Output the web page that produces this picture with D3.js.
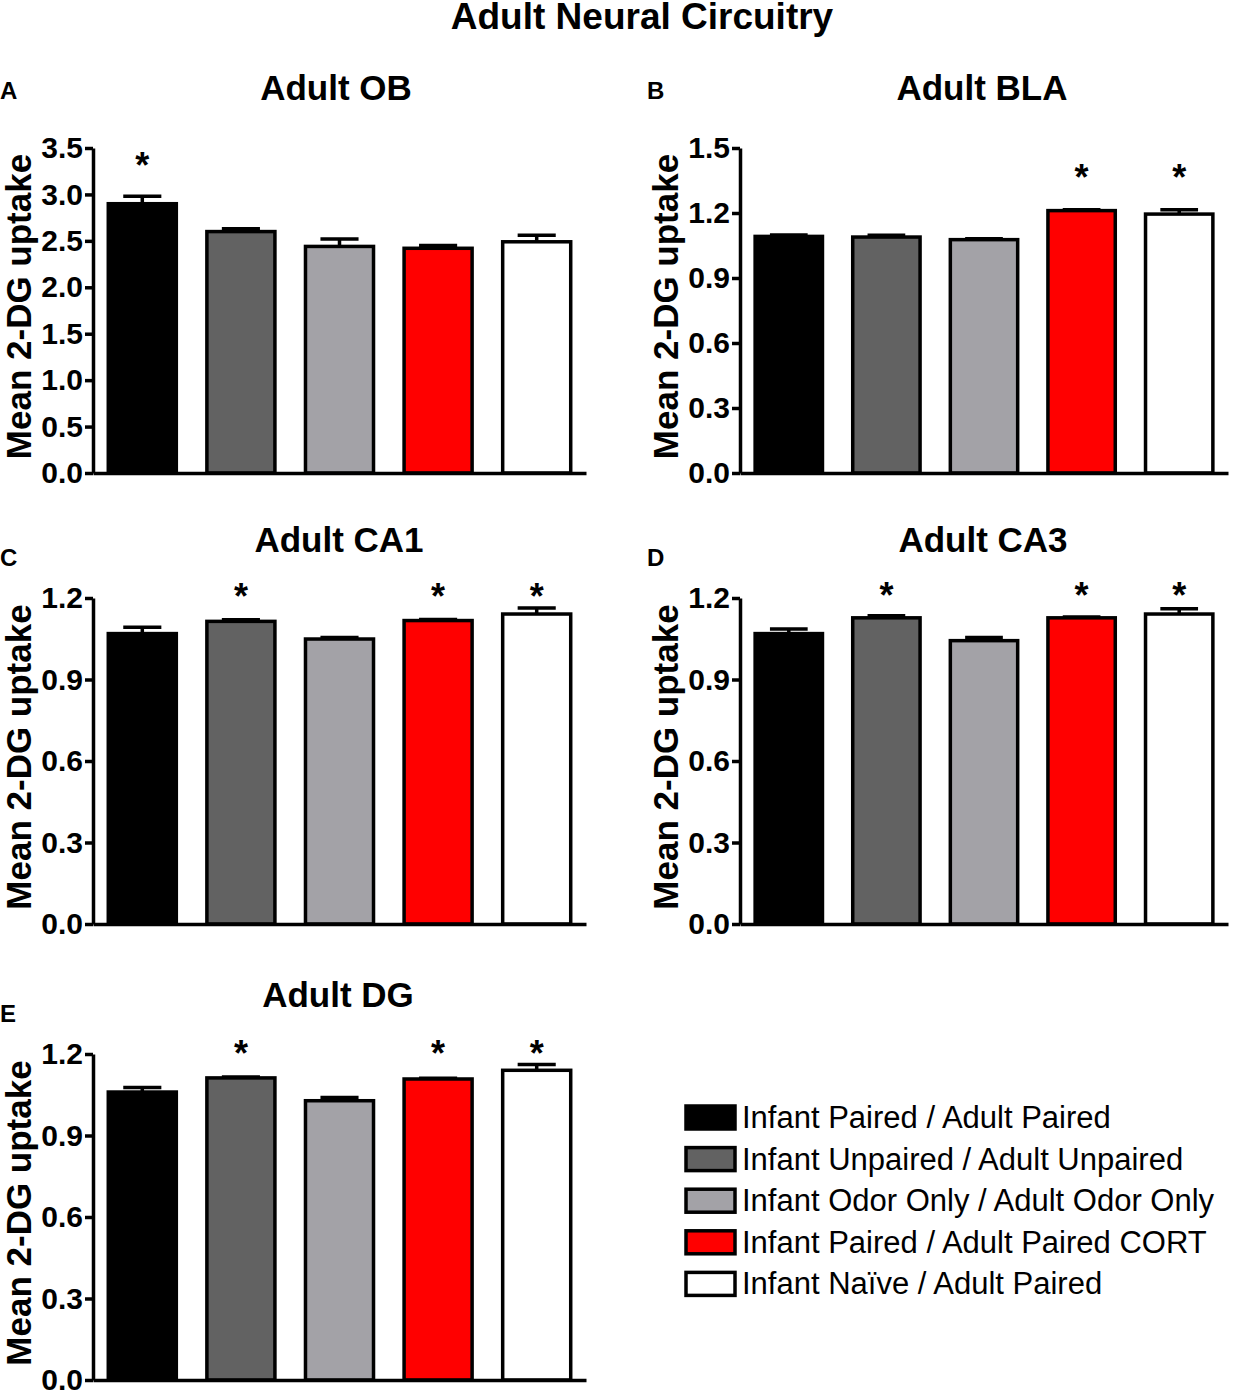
<!DOCTYPE html>
<html>
<head>
<meta charset="utf-8">
<script src="https://cdn.jsdelivr.net/npm/d3@7"></script>
<style>
  body { margin: 0; background: #fff; }
  svg { display: block; font-family: "Liberation Sans", Arial, sans-serif; }
</style>
</head>
<body>
<div id="chart"></div>
<script>
// groups (legend order = bar order)
const groups = [
    "Infant Paired / Adult Paired",
    "Infant Unpaired / Adult Unpaired",
    "Infant Odor Only / Adult Odor Only",
    "Infant Paired / Adult Paired CORT",
    "Infant Naïve / Adult Paired"
];
const regions = ["Adult OB", "Adult BLA", "Adult CA1", "Adult CA3", "Adult DG"];
const letters = ["A", "B", "C", "D", "E"];

// mean 2-DG uptake and SEM
const meanOB  = [2.90, 2.60, 2.44, 2.42, 2.49];
const semOB   = [0.08, 0.03, 0.08, 0.03, 0.07];
const meanBLA = [1.092, 1.089, 1.077, 1.211, 1.195];
const semBLA  = [0.006, 0.008, 0.004, 0.004, 0.020];
const meanCA1 = [1.069, 1.114, 1.049, 1.117, 1.141];
const semCA1  = [0.023, 0.006, 0.006, 0.004, 0.022];
const meanCA3 = [1.069, 1.127, 1.043, 1.127, 1.141];
const semCA3  = [0.017, 0.008, 0.012, 0.003, 0.019];
const meanDG  = [1.060, 1.112, 1.028, 1.108, 1.140];
const semDG   = [0.017, 0.003, 0.012, 0.003, 0.021];

// significance (*)
const sigOB  = [1, 0, 0, 0, 0];
const sigBLA = [0, 0, 0, 1, 1];
const sigCA1 = [0, 1, 0, 1, 1];
const sigCA3 = [0, 1, 0, 1, 1];
const sigDG  = [0, 1, 0, 1, 1];

// y tick labels
const ticksOB  = [0, 0.5, 1.0, 1.5, 2.0, 2.5, 3.0, 3.5];
const ticksBLA = [0, 0.3, 0.6, 0.9, 1.2, 1.5];
const ticksCA  = [0, 0.3, 0.6, 0.9, 1.2];

const fills = ["#000000", "#626262", "#a3a2a7", "#ff0000", "#ffffff"];

const W = 1233, H = 1390;
const svg = d3.select("#chart").append("svg")
    .attr("width", W).attr("height", H);

svg.append("text")
   .attr("x", 642).attr("y", 29)
   .attr("text-anchor", "middle")
   .style("font-size", "37px").style("font-weight", "bold")
   .text("Adult Neural Circuitry");

// layout per panel
const panels = [
    { mean: meanOB,  sem: semOB,  sig: sigOB,  ticks: ticksOB,  left: 93,  right: 586,  top: 148,  bottom: 473,  titleX: 336, titleY: 100,  letterY: 99,   starOff: 38 },
    { mean: meanBLA, sem: semBLA, sig: sigBLA, ticks: ticksBLA, left: 740, right: 1228, top: 148,  bottom: 473,  titleX: 982, titleY: 100,  letterY: 99,   starOff: 40 },
    { mean: meanCA1, sem: semCA1, sig: sigCA1, ticks: ticksCA,  left: 93,  right: 586,  top: 598,  bottom: 924,  titleX: 339, titleY: 552,  letterY: 566,  starOff: 19 },
    { mean: meanCA3, sem: semCA3, sig: sigCA3, ticks: ticksCA,  left: 740, right: 1228, top: 598,  bottom: 924,  titleX: 983, titleY: 552,  letterY: 566,  starOff: 21 },
    { mean: meanDG,  sem: semDG,  sig: sigDG,  ticks: ticksCA,  left: 93,  right: 586,  top: 1054, bottom: 1380, titleX: 338, titleY: 1007, letterY: 1022, starOff: 19 }
];

panels.forEach((p, k) => {
    const rows = groups.map((g, i) => ({ g, i, m: p.mean[i], s: p.sem[i], sig: p.sig[i] }));

    const x = d3.scaleBand()
        .domain(groups)
        .range([p.left, p.right])
        .paddingInner(0.31)
        .paddingOuter(0.155);

    const y = d3.scaleLinear()
        .domain([0, d3.max(p.ticks)])
        .range([p.bottom, p.top]);

    // panel letter and title
    svg.append("text")
       .attr("x", p.left < 300 ? 0 : 647).attr("y", p.letterY)
       .style("font-size", "24px").style("font-weight", "bold")
       .text(letters[k]);

    svg.append("text")
       .attr("x", p.titleX).attr("y", p.titleY)
       .attr("text-anchor", "middle")
       .style("font-size", "35px").style("font-weight", "bold")
       .text(regions[k]);

    // y axis label
    svg.append("text")
       .attr("transform", `translate(${p.left - 62},${(p.top + p.bottom) / 2 - 4}) rotate(-90)`)
       .attr("text-anchor", "middle")
       .style("font-size", "35px").style("font-weight", "bold")
       .text("Mean 2-DG uptake");

    // bars
    svg.selectAll(".bar-" + k)
       .data(rows)
       .enter()
       .append("rect")
       .attr("x", d => x(d.g))
       .attr("y", d => y(d.m))
       .attr("width", x.bandwidth())
       .attr("height", d => y(0) - y(d.m))
       .attr("fill", d => fills[d.i])
       .attr("stroke", "#000")
       .attr("stroke-width", 3.5);

    // error bars (upper only)
    const cx = d => x(d.g) + x.bandwidth() / 2;
    const capW = x.bandwidth() * 0.56;
    svg.selectAll(".err-" + k)
       .data(rows)
       .enter()
       .append("path")
       .attr("d", d => `M${cx(d)},${y(d.m)}V${y(d.m + d.s)}M${cx(d) - capW / 2},${y(d.m + d.s)}H${cx(d) + capW / 2}`)
       .attr("fill", "none")
       .attr("stroke", "#000")
       .attr("stroke-width", 3.5);

    // asterisks
    const starY = d3.min(rows.filter(d => d.sig), d => y(d.m + d.s)) - p.starOff;
    svg.selectAll(".star-" + k)
       .data(rows.filter(d => d.sig))
       .enter()
       .append("text")
       .attr("x", cx)
       .attr("y", starY + 20)
       .attr("text-anchor", "middle")
       .style("font-size", "36px").style("font-weight", "bold")
       .text("*");

    // axes
    const gy = svg.append("g")
        .attr("transform", `translate(${p.left},0)`)
        .call(d3.axisLeft(y).tickValues(p.ticks).tickFormat(d3.format(".1f")).tickSize(8).tickSizeOuter(0).tickPadding(2));
    gy.selectAll("path, line").attr("stroke", "#000").attr("stroke-width", 3.5);
    gy.selectAll("text")
      .style("font-size", "30px").style("font-weight", "bold")
      .style("font-family", "'Liberation Sans', Arial, sans-serif")
      .attr("fill", "#000");

    const gx = svg.append("g")
        .attr("transform", `translate(0,${p.bottom})`)
        .call(d3.axisBottom(x).tickValues([]).tickSizeOuter(0));
    gx.select("path").attr("stroke", "#000").attr("stroke-width", 3.5);
});

// legend
const legend = svg.selectAll(".legend")
    .data(groups)
    .enter()
    .append("g")
    .attr("transform", (d, i) => `translate(686,${1106 + i * 41.6})`);

legend.append("rect")
      .attr("width", 49).attr("height", 23)
      .attr("fill", (d, i) => fills[i])
      .attr("stroke", "#000").attr("stroke-width", 3.5);

legend.append("text")
      .attr("x", 56).attr("y", 22)
      .style("font-size", "31px")
      .text(d => d);
</script>
</body>
</html>
